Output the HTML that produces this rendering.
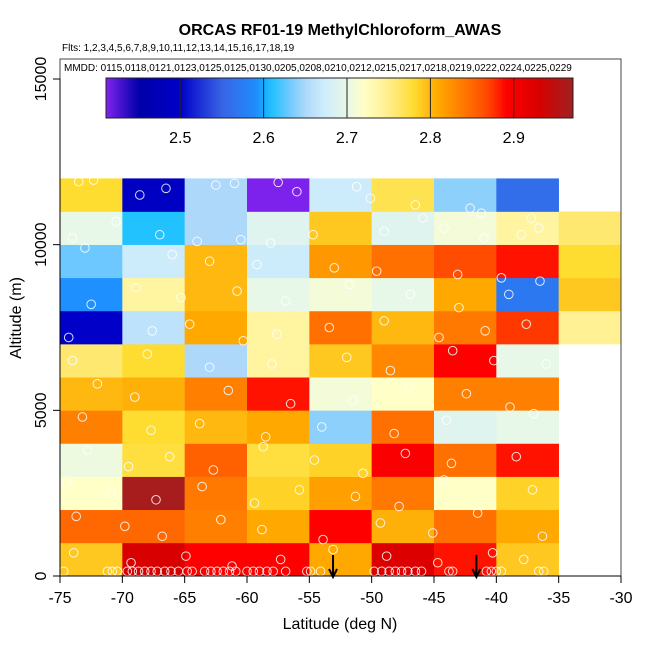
<!DOCTYPE html>
<html><head><meta charset="utf-8"><style>
body{margin:0;background:#fff}
svg{display:block;font-family:"Liberation Sans",sans-serif}
</style></head><body>
<svg id="c" width="650" height="650" viewBox="0 0 650 650" xmlns="http://www.w3.org/2000/svg">
<text x="340" y="35" text-anchor="middle" font-size="16" font-weight="bold">ORCAS RF01-19 MethylChloroform_AWAS</text>
<text x="62" y="51" font-size="10">Flts: 1,2,3,4,5,6,7,8,9,10,11,12,13,14,15,16,17,18,19</text>
<g id="cells"></g>
<g id="pts"></g>
<g id="arrows"></g>
<rect x="60" y="59" width="561" height="517" fill="none" stroke="#444" stroke-width="1"/>
<text x="64" y="71" font-size="10">MMDD: 0115,0118,0121,0123,0125,0125,0130,0205,0208,0210,0212,0215,0217,0218,0219,0222,0224,0225,0229</text>
<defs><linearGradient id="cbg" x1="0" x2="1" y1="0" y2="0"></linearGradient></defs>
<rect x="106" y="78" width="467" height="40" fill="url(#cbg)" stroke="#222"/>
<g id="cbt"></g>
<g id="xax"></g>
<g id="yax"></g>
<text x="340" y="629" text-anchor="middle" font-size="16">Latitude (deg N)</text>
<text transform="translate(21,318) rotate(-90)" text-anchor="middle" font-size="16">Altitude (m)</text>
</svg>
<script>
const lonEdges=[-75,-70,-65,-60,-55,-50,-45,-40,-35,-30];
const altEdges=[0,1000,2000,3000,4000,5000,6000,7000,8000,9000,10000,11000,12000];
// values per altitude band (bottom to top), per longitude column
const row0=[2.79,2.93,2.89,2.89,2.81,2.925,2.885,2.79,null];
const row1=[2.85,2.85,2.835,2.81,2.89,2.805,2.845,2.81,null];
const row2=[2.72,2.965,2.84,2.785,2.815,2.84,2.72,2.785,null];
const row3=[2.705,2.775,2.855,2.775,2.785,2.895,2.845,2.885,null];
const row4=[2.835,2.78,2.80,2.81,2.64,2.845,2.69,2.70,null];
const row5=[2.80,2.805,2.835,2.885,2.71,2.72,2.835,2.835,null];
const row6=[2.76,2.78,2.65,2.74,2.79,2.83,2.89,2.70,null];
const row7=[2.50,2.66,2.81,2.74,2.845,2.80,2.84,2.875,2.745];
const row8=[2.595,2.74,2.80,2.70,2.71,2.70,2.81,2.57,2.79];
const row9=[2.63,2.67,2.80,2.67,2.82,2.845,2.865,2.885,2.78];
const row10=[2.70,2.61,2.65,2.69,2.79,2.69,2.71,2.74,2.76];
const row11=[2.78,2.49,2.65,2.412,2.67,2.77,2.64,2.56,null];
const grid=[row0,row1,row2,row3,row4,row5,row6,row7,row8,row9,row10,row11];
const xTicks=[-75,-70,-65,-60,-55,-50,-45,-40,-35,-30];
const yTicks=[0,5000,10000,15000];
const cbTicks=[2.5,2.6,2.7,2.8,2.9];
const arrowLats=[-53.1,-41.6];
const bottomLats=[-74.7,-71.2,-70.8,-70.4,-69.6,-69.2,-68.7,-68.2,-67.7,-67.2,-66.6,-66.1,-65.5,-64.8,-64.4,-63.4,-62.9,-62.4,-61.9,-61.4,-60.9,-60.0,-59.5,-59.0,-58.4,-57.9,-56.9,-55.2,-54.9,-54.1,-49.8,-49.2,-48.6,-48.1,-47.6,-47.1,-46.5,-46.0,-43.8,-43.5,-40.8,-40.4,-40.0,-39.6,-36.6,-36.2];
const ptLat=[-73.5,-72.3,-68.6,-66.5,-62.5,-61.0,-57.5,-56.0,-51.2,-50.1,-46.5,-41.2,-44.2,-42.1,-37.2,-74.0,-70.5,-67.0,-64.0,-60.5,-58.1,-54.7,-49.0,-45.9,-41.0,-38.0,-36.6,-73.0,-66.0,-63.0,-59.2,-53.0,-49.6,-43.1,-39.6,-36.5,-72.5,-68.9,-65.3,-60.8,-56.9,-51.8,-46.9,-43.0,-39.0,-74.3,-67.6,-64.6,-60.3,-57.6,-53.4,-49.0,-44.6,-40.9,-37.6,-74.0,-68.0,-63.0,-58.0,-52.0,-48.5,-43.5,-40.2,-36.0,-72.0,-69.0,-61.5,-56.5,-51.5,-47.0,-42.4,-38.9,-73.2,-67.7,-63.8,-58.5,-54.0,-48.2,-44.0,-37.0];
const ptAlt=[11900,11950,11500,11700,11800,11850,11880,11600,11750,11400,11200,10950,10500,11100,10800,10200,10700,10300,10100,10150,10050,10300,10400,10800,10200,10300,10500,9900,9700,9500,9400,9300,9200,9100,9000,8900,8200,8700,8400,8600,8300,8800,8500,8100,8500,7200,7400,7600,7100,7300,7500,7700,7200,7400,7600,6500,6700,6300,6400,6600,6200,6800,6500,6400,5800,5400,5600,5200,5300,5700,5500,5100,4800,4400,4600,4200,4500,4300,4700,4900];
const ptLat2=[-72.8,-69.5,-66.2,-62.7,-58.7,-54.6,-50.7,-47.3,-43.6,-38.4,-74.5,-70.9,-67.3,-63.6,-59.4,-55.8,-51.3,-47.8,-44.2,-37.1,-73.7,-69.8,-66.8,-62.1,-58.8,-53.9,-49.3,-45.1,-41.5,-36.3,-73.9,-69.3,-64.9,-61.2,-57.3,-53.1,-48.8,-44.7,-40.3,-37.8];
const ptAlt2=[3800,3300,3600,3200,3900,3500,3100,3700,3400,3600,2800,2500,2300,2700,2200,2600,2400,2100,2900,2600,1800,1500,1200,1700,1400,1100,1600,1300,1900,1200,700,400,600,300,500,800,600,400,700,500];

const NS='http://www.w3.org/2000/svg';
const X0=60,X1=621,Y0=576,YTOP=79;
function x(lon){return X0+(lon+75)/45*(X1-X0);}
function y(alt){return Y0-alt/15000*(Y0-YTOP);}
const stops=[[2.41,'#8424f0'],[2.45,'#0000a8'],[2.5,'#0000c8'],[2.55,'#3864e4'],[2.595,'#1e90ff'],[2.605,'#10c0ff'],[2.63,'#6cc8ff'],[2.65,'#add8fa'],[2.67,'#ccecfc'],[2.70,'#e8f8e8'],[2.72,'#ffffc8'],[2.74,'#fff4a0'],[2.76,'#ffe870'],[2.78,'#ffdc30'],[2.79,'#ffc820'],[2.80,'#ffb810'],[2.81,'#ffa800'],[2.835,'#ff8000'],[2.855,'#ff6000'],[2.875,'#ff3800'],[2.89,'#ff0000'],[2.93,'#d80000'],[2.97,'#a02020']];
function hx(h){return [1,3,5].map(i=>parseInt(h.substr(i,2),16));}
function col(v){
  if(v<=stops[0][0])return stops[0][1];
  for(let i=1;i<stops.length;i++){if(v<=stops[i][0]){const a=stops[i-1],b=stops[i];const t=(v-a[0])/(b[0]-a[0]);const ca=hx(a[1]),cb=hx(b[1]);return 'rgb('+ca.map((c,k)=>Math.round(c+(cb[k]-c)*t)).join(',')+')';}}
  return stops[stops.length-1][1];
}
function mk(tag,attrs,parent){const e=document.createElementNS(NS,tag);for(const k in attrs)e.setAttribute(k,attrs[k]);parent.appendChild(e);return e;}
const cells=document.getElementById('cells');
grid.forEach((row,r)=>row.forEach((v,c)=>{
  if(v===null)return;
  const e=mk('rect',{x:x(lonEdges[c]),y:y(altEdges[r+1]),width:x(lonEdges[c+1])-x(lonEdges[c])+0.3,height:y(altEdges[r])-y(altEdges[r+1])+0.3,fill:col(v)},cells);
  
  
}));
const pts=document.getElementById('pts');
function pt(lo,al){const e=mk('circle',{cx:x(lo),cy:y(al),r:4.3,fill:'none',stroke:'#fff','stroke-opacity':0.85,'stroke-width':1},pts);
  
  }
bottomLats.forEach(lo=>pt(lo,140));
ptLat.forEach((lo,i)=>pt(lo,ptAlt[i]));
ptLat2.forEach((lo,i)=>pt(lo,ptAlt2[i]));
const ar=document.getElementById('arrows');
arrowLats.forEach(lo=>{const g=mk('g',{},ar);
  
  
  mk('line',{x1:x(lo),x2:x(lo),y1:555,y2:576,stroke:'#000','stroke-width':2},g);
  mk('polyline',{points:(x(lo)-4)+',569 '+x(lo)+',577 '+(x(lo)+4)+',569',fill:'none',stroke:'#000','stroke-width':2},g);});
const g=document.getElementById('cbg');const vmin=2.411,vmax=2.971;
for(let i=0;i<=56;i++){const v=vmin+(vmax-vmin)*i/56;mk('stop',{offset:(i/56),'stop-color':col(v)},g);}
const cbt=document.getElementById('cbt');
cbTicks.forEach(v=>{const px=106+(v-vmin)/(vmax-vmin)*467;
  mk('line',{x1:px,x2:px,y1:78,y2:118,stroke:'#222','stroke-width':1},cbt);
  const t=mk('text',{x:px,y:143,'text-anchor':'middle','font-size':16},cbt);t.textContent=v.toFixed(1);
  
  });
const xa=document.getElementById('xax');
mk('line',{x1:X0,x2:X1,y1:Y0,y2:Y0,stroke:'#000'},xa);
xTicks.forEach(v=>{mk('line',{x1:x(v),x2:x(v),y1:Y0,y2:Y0+7,stroke:'#000'},xa);
  const t=mk('text',{x:x(v),y:603,'text-anchor':'middle','font-size':16},xa);t.textContent=v;
  
  });
const ya=document.getElementById('yax');
mk('line',{x1:X0,x2:X0,y1:Y0,y2:y(15000),stroke:'#000'},ya);
yTicks.forEach(v=>{mk('line',{x1:X0-7,x2:X0,y1:y(v),y2:y(v),stroke:'#000'},ya);
  const t=mk('text',{transform:'translate(46,'+y(v)+') rotate(-90)','text-anchor':'middle','font-size':16},ya);t.textContent=v;
  
  });
</script>
</body></html>
